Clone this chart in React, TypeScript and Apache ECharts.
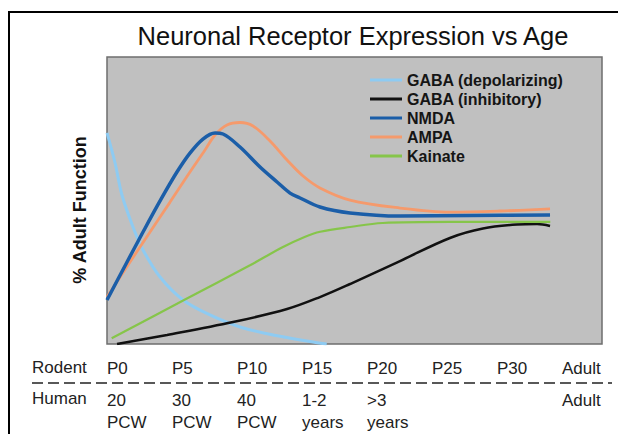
import React, { useEffect, useRef } from "react";
import * as echarts from "echarts";

// x = rodent postnatal day, y = % adult function (adult level ≈ 100)
const gabaDepolarizing: [number, number][] = [
  [0, 163.6], [0.62, 140.3], [1.15, 115.5], [2.0, 90.7], [2.77, 72.9], [4.08, 51.9], [5.85, 34.1],
  [7.92, 22.5], [10.23, 13.2], [12.77, 7.0], [15.85, 1.6], [16.9, 0],
];
const gabaInhibitory: [number, number][] = [
  [0.77, 0], [4.62, 7], [9.69, 17], [13.85, 27.1], [16.38, 36.4], [18.69, 46.5], [22.54, 64.3],
  [26.38, 82.2], [28.92, 89.5], [31.54, 92.6], [33.08, 93], [34.08, 91.5],
];
const nmda: [number, number][] = [
  [0, 34.1], [1.38, 60.5], [2.77, 86.8], [4.08, 110.9], [5.38, 133.3], [6.38, 148], [7.38, 158.9],
  [8.31, 163.6], [8.92, 162.8], [10.23, 152.7], [11.77, 137.2], [13.08, 125.6], [14.08, 117], [14.85, 113.2],
  [16.38, 106.2], [18.69, 101.6], [22.54, 99.2], [27.9, 99.6], [34.08, 100],
];
const ampa: [number, number][] = [
  [0, 36.4], [1.77, 63.6], [3.31, 86.8], [4.85, 110], [6.38, 133.3], [7.54, 150.4], [8.31, 162],
  [9.23, 169.8], [10.23, 171.7], [11.23, 169], [12.54, 157.4], [13.85, 142.6], [15.08, 130.2], [16.38, 121],
  [18.69, 111.6], [22.54, 105.4], [26.38, 102.3], [30.23, 103.1], [34.08, 104.7],
];
const kainate: [number, number][] = [
  [0.36, 4.4], [6, 34.5], [11, 61], [13.5, 75], [15.2, 83], [16.4, 87], [18.7, 90.7], [21.2, 93.8],
  [26.4, 94.6], [34.1, 94.6],
];

const seriesNames = ["GABA (depolarizing)", "GABA (inhibitory)", "NMDA", "AMPA", "Kainate"];
const seriesColors = ["#8ecbf2", "#111111", "#1b5ea8", "#f59a6c", "#86c54a"];
const seriesWidths = [3, 2.5, 3.5, 2.8, 2.2];

const rodentTicks = ["P0", "P5", "P10", "P15", "P20", "P25", "P30", "Adult"];
const humanTicks = ["20\nPCW", "30\nPCW", "40\nPCW", "1-2\nyears", ">3\nyears", "", "", "Adult"];

const FONT = "'Liberation Sans', Arial, sans-serif";

export default function App() {
  const ref = useRef<HTMLDivElement>(null);
  useEffect(() => {
    if (!ref.current) return;
    const chart = echarts.init(ref.current, undefined, { renderer: "svg" });
    const datasets = [gabaDepolarizing, gabaInhibitory, nmda, ampa, kainate];
    const tickFmt = (arr: string[]) => (v: number) => {
      const i = Math.round(v / 5);
      if (Math.abs(v - i * 5) > 0.01) return "";
      return arr[i] ?? "";
    };
    chart.setOption({
      animation: false,
      backgroundColor: "#ffffff",
      textStyle: { fontFamily: FONT },
      title: {
        text: "Neuronal Receptor Expression vs Age",
        left: 348,
        textAlign: "center",
        top: 18,
        textStyle: { fontFamily: FONT, fontSize: 25.5, fontWeight: "normal", color: "#111" },
      },
      legend: {
        orient: "vertical",
        left: 365,
        top: 67,
        itemWidth: 32,
        itemHeight: 3,
        itemGap: 3,
        icon: "rect",
        textStyle: { fontFamily: FONT, fontSize: 16, fontWeight: "bold", color: "#151515" },
        data: seriesNames,
      },
      grid: {
        left: 107,
        top: 57,
        width: 495,
        height: 287,
        show: true,
        backgroundColor: "#c0c0c0",
        borderColor: "#6e6e6e",
        borderWidth: 1.5,
      },
      xAxis: [
        {
          type: "value",
          min: 0,
          max: 495 / 13,
          interval: 5,
          position: "bottom",
          splitLine: { show: false },
          axisLine: { show: false },
          axisTick: { show: false },
          axisLabel: {
            formatter: tickFmt(rodentTicks),
            align: "left",
            margin: 16,
            fontFamily: FONT,
            fontSize: 17,
            color: "#222",
            showMaxLabel: false,
          },
        },
        {
          type: "value",
          min: 0,
          max: 495 / 13,
          interval: 5,
          position: "bottom",
          offset: 0,
          splitLine: { show: false },
          axisLine: { show: false },
          axisTick: { show: false },
          axisLabel: {
            formatter: tickFmt(humanTicks),
            align: "left",
            verticalAlign: "top",
            margin: 45,
            lineHeight: 22,
            fontFamily: FONT,
            fontSize: 17,
            color: "#222",
            showMaxLabel: false,
          },
        },
      ],
      yAxis: {
        type: "value",
        min: 0,
        max: 287 / 1.29,
        splitLine: { show: false },
        axisLine: { show: false },
        axisTick: { show: false },
        axisLabel: { show: false },
      },
      series: datasets.map((d, i) => ({
        name: seriesNames[i],
        type: "line",
        data: d,
        xAxisIndex: 0,
        smooth: 0.35,
        symbol: "none",
        color: seriesColors[i],
        lineStyle: { color: seriesColors[i], width: seriesWidths[i] },
        z: i === 2 ? 3 : 2,
      })),
      graphic: [
        {
          type: "rect",
          shape: { x: 9, y: 12, width: 700, height: 500 },
          style: { fill: "none", stroke: "#000", lineWidth: 2 },
          silent: true,
        },
        {
          type: "text",
          x: 79.5,
          y: 210,
          rotation: Math.PI / 2,
          style: {
            text: "% Adult Function",
            fontFamily: FONT,
            fontSize: 18,
            fontWeight: "bold",
            fill: "#111",
            align: "center",
            verticalAlign: "middle",
          },
        },
        {
          type: "text",
          x: 32,
          y: 367,
          style: { text: "Rodent", fontFamily: FONT, fontSize: 17, fill: "#222", verticalAlign: "middle" },
        },
        {
          type: "text",
          x: 32,
          y: 398,
          style: { text: "Human", fontFamily: FONT, fontSize: 17, fill: "#222", verticalAlign: "middle" },
        },
        {
          type: "line",
          shape: { x1: 32, y1: 383, x2: 612, y2: 383 },
          style: { stroke: "#222", lineWidth: 1.5, lineDash: [11, 5] },
        },
      ],
    });
    return () => chart.dispose();
  }, []);
  return (
    <div
      ref={ref}
      style={{ position: "fixed", left: 0, top: 0, width: 618, height: 434 }}
    />
  );
}
